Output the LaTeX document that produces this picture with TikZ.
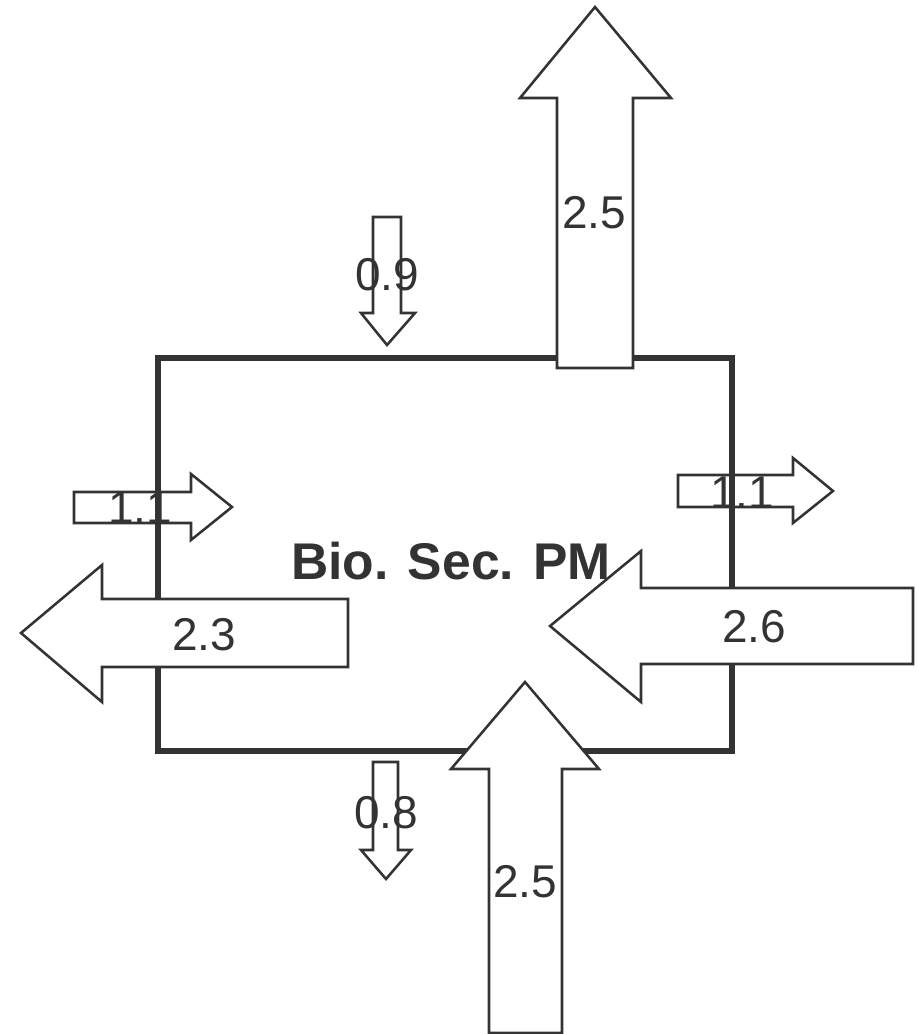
\documentclass[tikz,border=0pt]{standalone}
\usepackage{fontspec}
\setmainfont{Liberation Sans}
\usepackage{tikz}
\usetikzlibrary{calc}
\definecolor{ink}{RGB}{51,51,51}

\tikzset{
  sector/.style={draw=ink, line width=3.9pt},
  bigflow/.style={draw=ink, fill=white, line width=1.8pt, line join=miter},
  smallflow/.style={draw=ink, line width=1.8pt, line join=miter},
  flowlabel/.style={text=ink, inner sep=0pt, font=\fontsize{32.7}{36}\selectfont},
  sectorlabel/.style={text=ink, inner sep=0pt, font=\fontsize{36.7}{41}\selectfont\bfseries}
}

\begin{document}
\begin{tikzpicture}[x=0.025cm, y=-0.025cm]

\useasboundingbox (0,0) rectangle (916,1034);

%---------------------------------------
% Sector box
%---------------------------------------
\draw[sector] (158,358) rectangle (732,751);

%---------------------------------------
% Large flows (filled, cover the box)
%---------------------------------------
% output up, through the top
\draw[bigflow] (557,368) -- (557,98) -- (520,98) -- (595,7)
      -- (671,98) -- (633,98) -- (633,368) -- cycle;

% output left
\draw[bigflow] (348,599) -- (102,599) -- (102,565) -- (21,633)
      -- (102,702) -- (102,667) -- (348,667) -- cycle;

% input from the right
\draw[bigflow] (913,588) -- (641,588) -- (641,551) -- (550,626)
      -- (641,702) -- (641,664) -- (913,664) -- cycle;

% input from below
\draw[bigflow] (489,1033) -- (489,769) -- (451,769) -- (525,682)
      -- (599,769) -- (562,769) -- (562,1033) -- cycle;

\node[sectorlabel] (sec) at (451,561) {Bio. Sec. PM};

%---------------------------------------
% Small flows (outline only)
%---------------------------------------
\draw[smallflow] (373,217) -- (401,217) -- (401,313) -- (415,313)
      -- (387,345) -- (361,313) -- (373,313) -- cycle;

\draw[smallflow] (373,762) -- (398,762) -- (398,850) -- (411,850)
      -- (386,879) -- (361,850) -- (373,850) -- cycle;

\draw[smallflow] (74,492) -- (191,492) -- (191,474) -- (232,507)
      -- (191,540) -- (191,523) -- (74,523) -- cycle;

\draw[smallflow] (678,475) -- (793,475) -- (793,458) -- (833,491)
      -- (793,523) -- (793,507) -- (678,507) -- cycle;

%---------------------------------------
% Flow values
%---------------------------------------
\node[flowlabel] (outtop) at (594,213) {2.5};
\node[flowlabel] (intop) at (387,275) {0.9};
\node[flowlabel] (inleft) at (140,508) {1.1};
\node[flowlabel] (outright) at (742,493) {1.1};
\node[flowlabel] (outleft) at (204,635) {2.3};
\node[flowlabel] (inright) at (754,627) {2.6};
\node[flowlabel] (outbot) at (386,813) {0.8};
\node[flowlabel] (inbot) at (525,882) {2.5};

\end{tikzpicture}
\end{document}
